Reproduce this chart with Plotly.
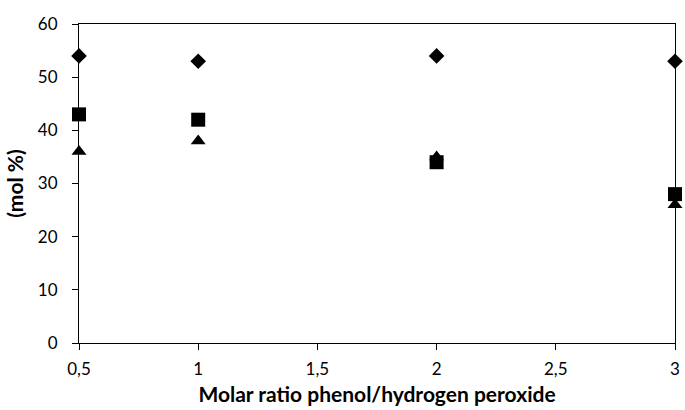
import plotly.graph_objects as go

ratio = [0.5, 1, 2, 3]
series_diamond = [54, 53, 54, 53]
series_square = [43, 42, 34, 28]
series_triangle = [36, 38, 35, 26]

x_tickvals = [0.5, 1, 1.5, 2, 2.5, 3]
x_ticktext = ["0,5", "1", "1,5", "2", "2,5", "3"]
y_tickvals = [0, 10, 20, 30, 40, 50, 60]

FONT = "Lato, 'Open Sans', sans-serif"

fig = go.Figure()
fig.add_trace(go.Scatter(x=ratio, y=series_triangle, mode="markers", cliponaxis=False,
                         marker=dict(symbol="triangle-up", size=13, color="black")))
fig.add_trace(go.Scatter(x=ratio, y=series_square, mode="markers", cliponaxis=False,
                         marker=dict(symbol="square", size=14, color="black")))
fig.add_trace(go.Scatter(x=ratio, y=series_diamond, mode="markers", cliponaxis=False,
                         marker=dict(symbol="diamond", size=12, color="black")))

fig.update_layout(
    width=685, height=410,
    margin=dict(l=79, r=5, t=24, b=67),
    paper_bgcolor="white", plot_bgcolor="white",
    showlegend=False,
    font=dict(family=FONT, size=17, color="black"),
    xaxis=dict(range=[0.5, 3], tickvals=x_tickvals, ticktext=x_ticktext,
               showgrid=False, zeroline=False, showline=True, linecolor="black",
               linewidth=1, mirror=True, ticks="outside", ticklen=6, tickcolor="black",
               ticklabelstandoff=5, ticklabeloverflow="allow",
               title=dict(text="<b>Molar ratio phenol/hydrogen peroxide</b>",
                          font=dict(size=21), standoff=8)),
    yaxis=dict(range=[0, 60], tickvals=y_tickvals,
               showgrid=False, zeroline=False, showline=True, linecolor="black",
               linewidth=1, mirror=True, ticks="outside", ticklen=6, tickcolor="black",
               ticklabelstandoff=11,
               title=dict(text="<b>(mol %)</b>", font=dict(size=21), standoff=8)),
)

fig.write_html("out.html")
